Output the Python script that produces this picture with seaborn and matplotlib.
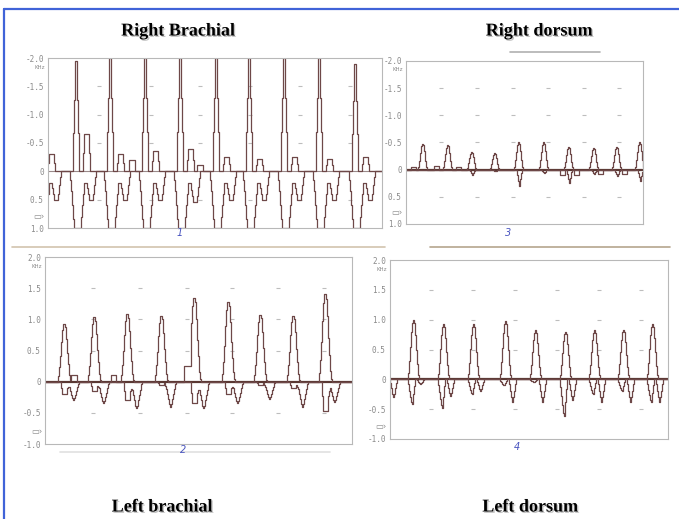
import numpy as np
import seaborn as sns
import matplotlib.pyplot as plt
import matplotlib.patheffects as pe
from matplotlib.lines import Line2D

W, H = 679, 519

# --- Right brachial (panel 1), x in samples, y in kHz (axis inverted) ---
rb_beats = [-8, 27, 61, 96, 131, 167, 200, 235, 270, 306]
rb_spike = [-1.9, -1.95, -2.0, -2.0, -2.0, -2.0, -2.0, -2.0, -2.0, -1.9]
rb_hump = [-0.3, -0.65, -0.3, -0.35, -0.4, -0.25, -0.22, -0.25, -0.22, -0.25]
rb_trough = [1.0, 1.0, 1.0, 1.0, 1.0, 1.0, 1.0, 1.0, 1.0, 1.0]
rb_dip = [0.5, 0.5, 0.5, 0.5, 0.55, 0.5, 0.5, 0.5, 0.5, 0.5]
rb_boxes = [(81, 86, -0.2), (149, 154, -0.12)]

# --- Right dorsum (panel 2) ---
rd_beats = [16, 41, 65, 88, 112, 137, 162, 187, 210, 233]
rd_peak = [-0.48, -0.45, -0.33, -0.3, -0.5, -0.5, -0.42, -0.4, -0.42, -0.5]
rd_dip = [0.0, 0.0, 0.1, 0.03, 0.3, 0.07, 0.25, 0.08, 0.12, 0.2]
rd_up_boxes = [(5, 9, -0.05), (28, 32, -0.06), (50, 54, -0.05)]
rd_low_boxes = [(154, 158, 0.1), (168, 172, 0.1), (192, 196, 0.08), (216, 220, 0.08)]

# --- Left brachial (panel 3) ---
lb_beats = [18, 48, 81, 115, 148, 182, 214, 247, 279]
lb_peak = [0.92, 1.03, 1.08, 1.05, 1.35, 1.28, 1.07, 1.06, 1.4]
lb_dip1 = [-0.2, -0.15, -0.3, -0.05, -0.35, -0.2, -0.05, -0.1, -0.47]
lb_dip2 = [-0.3, -0.35, -0.43, -0.4, -0.43, -0.35, -0.28, -0.4, -0.32]
lb_boxes = [(26, 31, 0.1), (66, 70, 0.1), (139, 145, 0.25)]

# --- Left dorsum (panel 4) ---
ld_beats = [-3, 24, 54, 84, 115, 145, 175, 204, 233, 262]
ld_peak = [0.0, 1.0, 0.93, 0.92, 0.97, 0.82, 0.8, 0.82, 0.83, 0.92]
ld_dip1 = [0.0, -0.42, -0.48, -0.25, -0.1, -0.05, -0.62, -0.25, -0.2, -0.38]
ld_dip2 = [-0.3, -0.08, -0.28, -0.2, -0.38, -0.38, -0.35, -0.38, -0.38, -0.38]

# stepped pulse shapes (offset of first sample, fractions)
SPIKE = (-2, [0.35, 0.65, 1, 1, 0.65, 0.35])
HUMP = (8, [0.5, 1, 1, 1, 1, 1, 0.5])
TROUGH = (-5, [0.15, .35, .6, .85, 1, 1, 1, 1, 1, 1, 1, .8, .6, .4, .2, .2, .2])
DIP = (12, [.6, .8, 1, 1, 1, 1, .8, .5, .2])
RD_PULSE = (-4, [0.1, 0.35, 0.65, 0.9, 1, 0.95, 0.7, 0.35, 0.1])
RD_DIP = (-1, [0.3, 0.7, 1, 0.6, 0.2])
LB_PULSE = (-5, [0.1, 0.25, 0.45, 0.7, 0.9, 1, 1, 0.95, 0.75, 0.5, 0.3, 0.12, 0.03])
LB_DIP1 = (-2, [0.5, 1, 1, 1, 1, 1, 0.5, 0.2])
LB_DIP2 = (5, [0.15, 0.3, 0.5, 0.7, 0.9, 1, 0.9, 0.7, 0.5, 0.3, 0.1])
LD_PULSE = (-5, [0.1, 0.3, 0.55, 0.8, 0.95, 1, 0.95, 0.75, 0.5, 0.25, 0.08])
LD_DIP1 = (-5, [0.2, 0.45, 0.7, 0.9, 1, 0.6, 0.25])
LD_DIP2 = (4, [0.2, 0.5, 0.8, 1, 0.8, 0.5, 0.2])


def build(n, beats, parts, boxes=()):
    y = np.zeros(n + 1)
    for (start, shape), amps in parts:
        for c, a in zip(beats, amps):
            for i, f in enumerate(shape):
                k = c + start + i
                if 0 <= k <= n:
                    y[k] += a * f
    for a, b, v in boxes:
        y[a:b + 1] = v
    return y


sns.set_style('white')
fig = plt.figure(figsize=(W / 100, H / 100), dpi=100)

TRACE = '#6e4848'
BASE = '#5a3833'
LABEL = '#8a8a8a'


def panel(box, n, traces, inverted, xt, rows, base_lw, base_col):
    x0, y0, x1, y1 = box
    ax = fig.add_axes([x0 / W, 1 - y1 / H, (x1 - x0) / W, (y1 - y0) / H])
    xs = np.arange(n + 1)
    ax.axhline(0, color=base_col, lw=base_lw, zorder=1)
    for y in traces:
        sns.lineplot(x=xs, y=y, ax=ax, color=TRACE, lw=0.9, drawstyle='steps-mid',
                     estimator=None, sort=False, zorder=2)
    gx = [x for x in xt for _ in rows]
    gy = [r for _ in xt for r in rows]
    ax.scatter(gx, gy, marker='_', s=10, color='#bdbdbd', linewidths=0.8, zorder=0)
    ax.set_xlim(0, n)
    if inverted:
        ax.set_ylim(1, -2)
        ticks = [-2, -1.5, -1, -0.5, 0, 0.5, 1]
        labels = ['-2.0', '-1.5', '-1.0', '-0.5', '0', '0.5', '1.0']
        khz_y, icon_y = -1.84, 0.8
    else:
        ax.set_ylim(-1, 2)
        ticks = [2, 1.5, 1, 0.5, 0, -0.5, -1]
        labels = ['2.0', '1.5', '1.0', '0.5', '0', '-0.5', '-1.0']
        khz_y, icon_y = 1.84, -0.8
    ax.set_yticks(ticks)
    ax.set_yticklabels(labels, fontfamily='DejaVu Sans Mono', fontsize=5.5, color=LABEL)
    ax.set_xticks(xt)
    ax.set_xticklabels([])
    ax.tick_params(axis='x', direction='out', length=3, width=0.6, color='#aaaaaa')
    ax.tick_params(axis='y', length=0, pad=3)
    ax.text(-3, khz_y, 'KHz', ha='right', va='center', fontsize=4, color=LABEL,
            transform=ax.transData)
    ax.text(-3, icon_y, '\u25ad\u203a', ha='right', va='center', fontsize=6,
            color=LABEL, transform=ax.transData)
    for s in ax.spines.values():
        s.set_color('#b8b8b8')
        s.set_linewidth(0.8)
    ax.set_xlabel('')
    ax.set_ylabel('')
    return ax


rb_up = build(334, rb_beats, [(SPIKE, rb_spike), (HUMP, rb_hump)], rb_boxes)
rb_low = build(334, rb_beats, [(TROUGH, rb_trough), (DIP, rb_dip)])
panel((48, 58, 382, 228), 334, [rb_low, rb_up], True,
      [51, 103, 152, 202, 252, 302], [-1.5, -1, -0.5, 0.5], 0.8, '#9a8a8a')

rd_up = build(237, rd_beats, [(RD_PULSE, rd_peak)], rd_up_boxes)
rd_low = build(237, rd_beats, [(RD_DIP, rd_dip)], rd_low_boxes)
panel((406, 61, 643, 224), 237, [rd_low, rd_up], True,
      [35, 71, 107, 142, 178, 213], [-1.5, -1, -0.5, 0.5], 1.6, BASE)

lb_up = build(307, lb_beats, [(LB_PULSE, lb_peak)], lb_boxes)
lb_low = build(307, lb_beats, [(LB_DIP1, lb_dip1), (LB_DIP2, lb_dip2)])
panel((45, 257, 352, 444), 307, [lb_low, lb_up], False,
      [48, 95, 142, 187, 233, 279], [1.5, 1, 0.5, -0.5], 1.6, BASE)

ld_up = build(278, ld_beats, [(LD_PULSE, ld_peak)])
ld_low = build(278, ld_beats, [(LD_DIP1, ld_dip1), (LD_DIP2, ld_dip2)])
panel((390, 260, 668, 439), 278, [ld_low, ld_up], False,
      [41, 83, 125, 167, 209, 251], [1.5, 1, 0.5, -0.5], 1.6, BASE)

# titles
shadow = [pe.withSimplePatchShadow(offset=(1, -1), shadow_rgbFace='#888888', alpha=0.5)]
titles = [('Right Brachial', 178, 31), ('Right dorsum', 539, 31),
          ('Left brachial', 162, 507), ('Left dorsum', 530, 507)]
for t, x, y in titles:
    fig.text(x / W, 1 - y / H, t, ha='center', va='center', fontsize=13,
             fontfamily='Liberation Serif', fontweight='bold', color='black',
             path_effects=shadow)

# handwritten panel numbers
for t, x, y in [('1', 180, 233), ('3', 508, 233), ('2', 183, 450), ('4', 517, 447)]:
    fig.text(x / W, 1 - y / H, t, ha='center', va='center', fontsize=7,
             color='#4a55c0', style='italic')

# scanner edge lines
for x0, x1, y, c in [(12, 385, 247, '#d2c4ae'), (430, 670, 247, '#b5a58e'),
                     (510, 600, 52, '#b0b0b0'), (60, 330, 452, '#e0e0e0')]:
    fig.add_artist(Line2D([x0 / W, x1 / W], [1 - y / H, 1 - y / H], color=c, lw=1.2,
                          transform=fig.transFigure))

# slide frame
fig.add_artist(Line2D([4 / W, 1], [1 - 9 / H, 1 - 9 / H], color='#4063d8', lw=1.6,
                      transform=fig.transFigure))
fig.add_artist(Line2D([4 / W, 4 / W], [0, 1 - 9 / H], color='#4063d8', lw=1.6,
                      transform=fig.transFigure))

fig.savefig('out.png', dpi=100)
